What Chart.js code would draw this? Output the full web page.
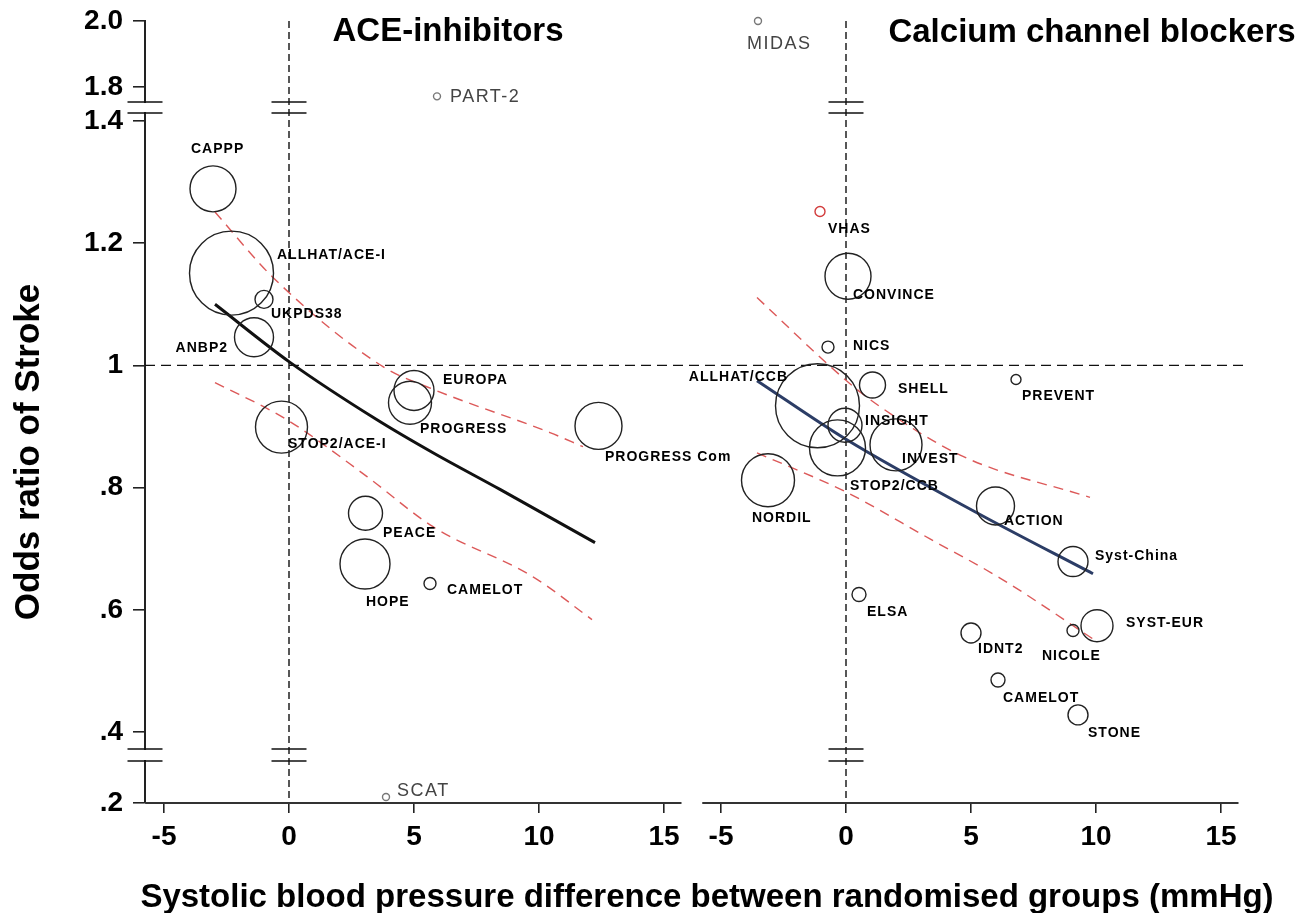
<!DOCTYPE html>
<html>
<head>
<meta charset="utf-8">
<script src="https://cdn.jsdelivr.net/npm/chart.js@4.4.0/dist/chart.umd.min.js"></script>
<style>
  html, body { margin: 0; padding: 0; background: #fff; }
</style>
</head>
<body>
<canvas id="myChart" width="1307" height="913"></canvas>
<script>
// ---- data ----
const xTicks = [-5, 0, 5, 10, 15];
const yTicks = [0.2, 0.4, 0.6, 0.8, 1, 1.2, 1.4, 1.8, 2.0];
const yTickLabels = [".2", ".4", ".6", ".8", "1", "1.2", "1.4", "1.8", "2.0"];

// ACE-inhibitor trials
const aceNames = ["CAPPP", "ALLHAT/ACE-I", "UKPDS38", "ANBP2", "STOP2/ACE-I", "EUROPA",
  "PROGRESS", "PROGRESS Com", "PEACE", "HOPE", "CAMELOT", "PART-2", "SCAT"];
const aceBp = [-3.04, -2.3, -1.0, -1.4, -0.3, 5.0, 4.84, 12.38, 3.06, 3.04, 5.64, 5.92, 3.88];
const aceOr = [1.289, 1.151, 1.108, 1.046, 0.899, 0.959, 0.939, 0.901, 0.758, 0.675, 0.643, 1.69, 0.217];
const aceWeight = [23, 42, 9, 19.5, 26, 20, 21.5, 23.5, 17, 25, 6, 3.5, 3.5];

// calcium channel blocker trials
const ccbNames = ["MIDAS", "VHAS", "CONVINCE", "NICS", "ALLHAT/CCB", "SHELL", "INSIGHT", "INVEST",
  "STOP2/CCB", "NORDIL", "ACTION", "Syst-China", "ELSA", "SYST-EUR", "NICOLE", "IDNT2",
  "CAMELOT", "STONE", "PREVENT"];
const ccbBp = [-3.52, -1.04, 0.08, -0.72, -1.14, 1.06, -0.04, 2.0, -0.34, -3.12, 5.98, 9.08,
  0.52, 10.04, 9.08, 5.0, 6.08, 9.28, 6.8];
const ccbOr = [2.0, 1.252, 1.146, 1.03, 0.934, 0.968, 0.902, 0.870, 0.865, 0.812, 0.770, 0.679,
  0.625, 0.574, 0.566, 0.562, 0.485, 0.428, 0.977];
const ccbWeight = [3.5, 5, 23, 6, 42, 13, 17, 26, 28, 26.5, 19, 15, 7, 16, 6, 10, 7, 10, 5];

// meta-regression lines with 95% bands
const aceFitBp = [-2.96, 0.04, 3.52, 5.76, 8.44, 12.24];
const aceFitOr = [1.100, 1.005, 0.911, 0.857, 0.797, 0.710];
const aceUpBp = [-2.96, -0.64, 3.76, 5.76, 10.44, 11.76];
const aceUpOr = [1.251, 1.144, 0.998, 0.961, 0.890, 0.867];
const aceLoBp = [-2.96, -0.08, 3.12, 5.76, 9.76, 12.12];
const aceLoOr = [0.972, 0.911, 0.818, 0.736, 0.654, 0.584];

const ccbFitBp = [-3.56, 0, 5.36, 9.88];
const ccbFitOr = [0.975, 0.879, 0.756, 0.659];
const ccbUpBp = [-3.56, -0.04, 1.24, 4.68, 9.76];
const ccbUpOr = [1.111, 0.977, 0.936, 0.851, 0.784];
const ccbLoBp = [-3.56, 0.04, 3.36, 6.16, 10.04];
const ccbLoOr = [0.857, 0.792, 0.716, 0.652, 0.548];

// ---- label placement (text anchor, dx, dy from bubble centre) ----
const aceLabelPos = [["l", -22, -39.5], ["l", 45.5, -18], ["l", 7, 15], ["r", -26, 11],
  ["l", 6.5, 17.5], ["l", 29, -10], ["l", 10, 26], ["l", 6.5, 31.5], ["l", 17.5, 19.5],
  ["l", 1, 38], ["l", 17, 7], ["l", 13, 1], ["l", 11, -6]];
const ccbLabelPos = [["l", -11, 23], ["l", 8, 18], ["l", 5, 19], ["l", 25, -1], ["r", -29.5, -29],
  ["l", 25.5, 4.5], ["l", 20, -4], ["l", 6, 14], ["l", 12.5, 38.5], ["l", -16, 38],
  ["l", 8.5, 15], ["l", 22, -5], ["l", 8, 18], ["l", 29, -3], ["l", -31, 26], ["l", 7, 16],
  ["l", 5, 18], ["l", 10, 18], ["l", 6, 17]];

// broken y axis: where each knot value sits as a fraction of the axis height
const yKnots = [0.2, 0.4, 1.4, 1.8, 2.0];
const yKnotPos = [0, 0.0908, 0.8721, 0.9156, 1];
const panelSpan = [-5.75, 15.7];

const FONT = "'Liberation Sans', Arial, sans-serif";
Chart.defaults.font.family = FONT;
Chart.defaults.color = "#000";

class BrokenScale extends Chart.LinearScale {
  getPixelForValue(value) {
    let i = 1;
    while (i < yKnots.length - 1 && value > yKnots[i]) i++;
    const t = (value - yKnots[i - 1]) / (yKnots[i] - yKnots[i - 1]);
    const f = yKnotPos[i - 1] + t * (yKnotPos[i] - yKnotPos[i - 1]);
    return this.bottom - f * (this.bottom - this.top);
  }
  getValueForPixel(pixel) {
    const f = (this.bottom - pixel) / (this.bottom - this.top);
    let i = 1;
    while (i < yKnotPos.length - 1 && f > yKnotPos[i]) i++;
    const t = (f - yKnotPos[i - 1]) / (yKnotPos[i] - yKnotPos[i - 1]);
    return yKnots[i - 1] + t * (yKnots[i] - yKnots[i - 1]);
  }
}
BrokenScale.id = "broken";
BrokenScale.defaults = Chart.LinearScale.defaults;
Chart.register(BrokenScale);

const offScale = (v) => v > 1.4 || v < 0.4;
const toPoints = (xs, ys) => xs.map((x, i) => ({ x: x, y: ys[i] }));

const fitLine = (axis, xs, ys, color, width) => ({
  type: "line", xAxisID: axis, yAxisID: "y",
  data: toPoints(xs, ys),
  borderColor: color, borderWidth: width,
  pointRadius: 0, cubicInterpolationMode: "monotone", fill: false,
});
const bandLine = (axis, xs, ys) => ({
  ...fitLine(axis, xs, ys, "rgba(214,60,60,0.85)", 1.4),
  borderDash: [10, 7],
});

const studyLabels = [
  { names: aceNames, pos: aceLabelPos, values: aceOr },
  { names: ccbNames, pos: ccbLabelPos, values: ccbOr },
];

const decorations = {
  id: "decorations",
  beforeDatasetsDraw(chart) {
    const { ctx, chartArea, scales } = chart;
    const y1 = scales.y.getPixelForValue(1);
    ctx.save();
    ctx.strokeStyle = "#111";
    ctx.lineWidth = 1.4;
    ctx.setLineDash([10, 6]);
    ctx.beginPath();
    ctx.moveTo(chartArea.left, y1);
    ctx.lineTo(chartArea.right + 6, y1);
    ctx.stroke();
    ctx.setLineDash([7, 4]);
    [scales.xa, scales.xb].forEach((s) => {
      const x0 = s.getPixelForValue(0);
      ctx.beginPath();
      ctx.moveTo(x0, chartArea.top);
      ctx.lineTo(x0, chartArea.bottom);
      ctx.stroke();
    });
    ctx.setLineDash([]);
    ctx.strokeStyle = "#333";
    ctx.lineWidth = 2;
    [scales.xa, scales.xb].forEach((s) => {
      ctx.beginPath();
      ctx.moveTo(s.getPixelForValue(panelSpan[0]), chartArea.bottom);
      ctx.lineTo(s.getPixelForValue(panelSpan[1]), chartArea.bottom);
      ctx.stroke();
    });
    ctx.restore();
  },
  afterDatasetsDraw(chart) {
    const { ctx, scales } = chart;
    // axis break marks
    const top = scales.y.getPixelForValue(1.4);
    const bot = scales.y.getPixelForValue(0.4);
    const pairs = [[top - 19, top - 8], [bot + 17, bot + 29]];
    const xs = [scales.y.right, scales.xa.getPixelForValue(0), scales.xb.getPixelForValue(0)];
    ctx.save();
    xs.forEach((x, k) => {
      pairs.forEach(([a, b]) => {
        if (k === 0) {
          ctx.fillStyle = "#fff";
          ctx.fillRect(x - 3, a + 1, 6, b - a - 2);
        }
        ctx.strokeStyle = "#111";
        ctx.lineWidth = 1.6;
        ctx.beginPath();
        ctx.moveTo(x - 17.5, a); ctx.lineTo(x + 17.5, a);
        ctx.moveTo(x - 17.5, b); ctx.lineTo(x + 17.5, b);
        ctx.stroke();
      });
    });
    // study labels
    ctx.textBaseline = "middle";
    studyLabels.forEach((set, di) => {
      const meta = chart.getDatasetMeta(di);
      meta.data.forEach((el, i) => {
        const [align, dx, dy] = set.pos[i];
        if (offScale(set.values[i])) {
          ctx.font = "18px " + FONT;
          ctx.fillStyle = "#444";
          ctx.letterSpacing = "1.5px";
        } else {
          ctx.font = "bold 14px " + FONT;
          ctx.fillStyle = "#000";
          ctx.letterSpacing = "1px";
        }
        ctx.textAlign = align === "r" ? "right" : "left";
        ctx.fillText(set.names[i], el.x + dx, el.y + dy);
      });
    });
    ctx.restore();
  },
  afterDraw(chart) {
    const { ctx } = chart;
    ctx.save();
    ctx.fillStyle = "#000";
    ctx.textAlign = "center";
    ctx.textBaseline = "alphabetic";
    ctx.font = "bold 33px " + FONT;
    ctx.fillText("ACE-inhibitors", 448, 41);
    ctx.fillText("Calcium channel blockers", 1092, 42);
    ctx.fillText("Systolic blood pressure difference between randomised groups (mmHg)", 707, 907);
    ctx.translate(29, 452);
    ctx.rotate(-Math.PI / 2);
    ctx.textBaseline = "middle";
    ctx.font = "bold 35px " + FONT;
    ctx.fillText("Odds ratio of Stroke", 0, 0);
    ctx.restore();
  },
};

const xScale = (min, max) => ({
  type: "linear", position: "bottom", stack: "panels", stackWeight: 1,
  min: min, max: max,
  afterBuildTicks: (s) => { s.ticks = xTicks.map((v) => ({ value: v })); },
  afterFit: (s) => { s.height = 55; s.paddingLeft = 0; s.paddingRight = 0; },
  ticks: { autoSkip: false, maxRotation: 0, padding: 7, color: "#000",
    font: { size: 28, weight: "bold" }, callback: (v) => String(v) },
  grid: { drawOnChartArea: false, drawTicks: true, tickLength: 10, color: "#222", lineWidth: 1.6 },
  border: { display: false },
});

const myChart = new Chart(document.getElementById("myChart"), {
  type: "bubble",
  data: {
    datasets: [
      {
        label: "ACE-inhibitors", xAxisID: "xa", yAxisID: "y", clip: false,
        data: aceNames.map((n, i) => ({ x: aceBp[i], y: aceOr[i], r: aceWeight[i] })),
        backgroundColor: "rgba(0,0,0,0)",
        borderColor: (c) => (offScale(aceOr[c.dataIndex]) ? "#777" : "#222"),
        borderWidth: 1.4,
      },
      {
        label: "Calcium channel blockers", xAxisID: "xb", yAxisID: "y", clip: false,
        data: ccbNames.map((n, i) => ({ x: ccbBp[i], y: ccbOr[i], r: ccbWeight[i] })),
        backgroundColor: "rgba(0,0,0,0)",
        borderColor: (c) => {
          if (ccbNames[c.dataIndex] === "VHAS") return "#d23c3c";
          return offScale(ccbOr[c.dataIndex]) ? "#777" : "#222";
        },
        borderWidth: 1.4,
      },
      bandLine("xa", aceUpBp, aceUpOr),
      bandLine("xa", aceLoBp, aceLoOr),
      fitLine("xa", aceFitBp, aceFitOr, "#111", 3),
      bandLine("xb", ccbUpBp, ccbUpOr),
      bandLine("xb", ccbLoBp, ccbLoOr),
      fitLine("xb", ccbFitBp, ccbFitOr, "#2c3d66", 3),
    ],
  },
  options: {
    responsive: false,
    animation: false,
    events: [],
    layout: { autoPadding: false, padding: { top: 21, right: 69, bottom: 55, left: 0 } },
    plugins: { legend: { display: false }, tooltip: { enabled: false } },
    scales: {
      xa: xScale(-5.76, 16.1),
      xb: xScale(-6.18, 15.68),
      y: {
        type: "broken", position: "left", min: 0.2, max: 2.0,
        afterBuildTicks: (s) => { s.ticks = yTicks.map((v) => ({ value: v })); },
        afterFit: (s) => { s.width = 145; s.paddingTop = 0; s.paddingBottom = 0; },
        ticks: { autoSkip: false, padding: 10, color: "#000",
          font: { size: 28, weight: "bold" }, callback: (v, i) => yTickLabels[i] },
        grid: { drawOnChartArea: false, drawTicks: true, tickLength: 12, color: "#222", lineWidth: 1.6 },
        border: { display: true, color: "#222", width: 2 },
      },
    },
  },
  plugins: [decorations],
});
</script>
</body>
</html>
